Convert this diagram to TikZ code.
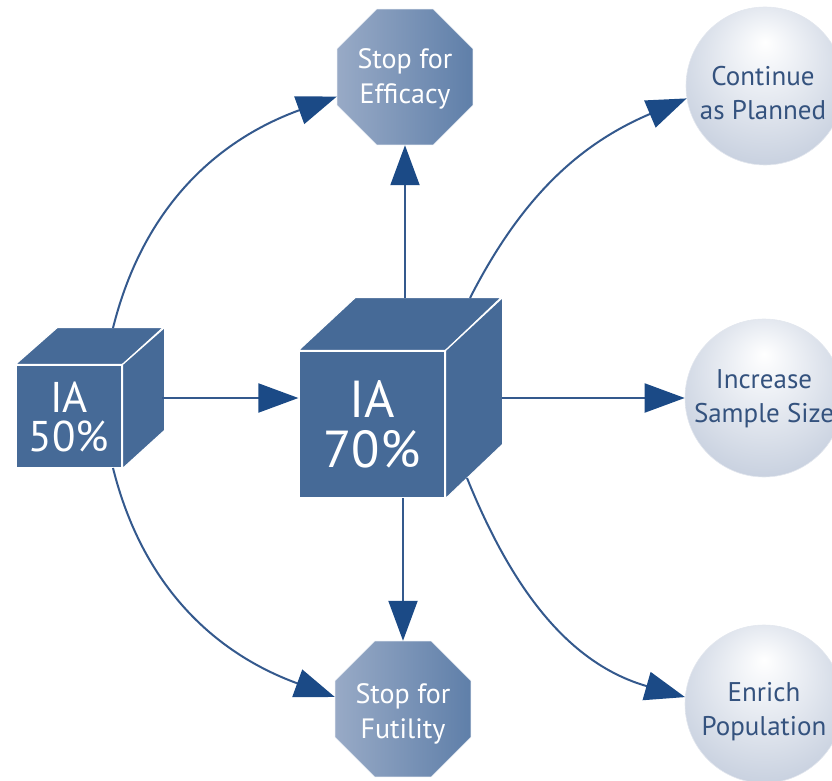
\documentclass[tikz,border=0pt]{standalone}
\usepackage{fontspec}
\setmainfont{PT Sans}
\usetikzlibrary{shapes.geometric,arrows.meta,calc}
\definecolor{cubeblue}{HTML}{466A97}
\definecolor{arrowline}{HTML}{34598D}
\definecolor{arrowtip}{HTML}{1B4A86}
\definecolor{octL}{HTML}{98AAC6}
\definecolor{octR}{HTML}{5F7FA9}
\definecolor{orbA}{HTML}{EDF0F5}
\definecolor{orbB}{HTML}{BFC9DA}
\definecolor{orbC}{HTML}{A1B0C8}
\definecolor{orbtext}{HTML}{34527E}
\pgfdeclareradialshading{orb}{\pgfpoint{0bp}{14bp}}{color(0bp)=(white); color(10bp)=(orbA); color(36bp)=(orbB); color(50bp)=(orbC)}
\begin{document}
\begin{tikzpicture}[x=1pt,y=1pt,
 cubeface/.style={rectangle, fill=cubeblue, draw=white, line width=1.2pt, text=white, align=center, inner sep=0pt},
 sideface/.style={fill=cubeblue, draw=white, line width=1.2pt, line join=round},
 octo/.style={regular polygon, regular polygon sides=8, minimum size=147pt, inner sep=0pt, left color=octL, right color=octR, draw=white!80!octR, line width=0.6pt},
 octtxt/.style={text=white, align=center, inner sep=0pt, font=\fontsize{28}{35}\selectfont},
 orbnode/.style={circle, minimum size=158pt, inner sep=0pt, shading=orb, draw=white!70!orbC, line width=0.6pt},
 orbtxt/.style={text=orbtext, align=center, inner sep=0pt, font=\fontsize{27}{34}\selectfont},
 conn/.style={draw=arrowline, line width=2pt, -{Triangle[length=40pt,width=29pt,color=arrowtip]}}
]
\useasboundingbox (0,0) rectangle (832,-781);

% outcome nodes
\node[octo] (eff) at (405,-77) {};
\node[octtxt] (effT) at ($(eff.center)+(0,-2)$) {Stop for\\Efficacy};
\node[octo] (fut) at (403,-709) {};
\node[octtxt] (futT) at ($(fut.center)+(0,-5)$) {Stop for\\Futility};
\node[orbnode] (cont) at (765,-86) {};
\node[orbtxt] (contT) at ($(cont.center)+(-2,-7)$) {Continue\\as Planned};
\node[orbnode] (inc) at (764,-398) {};
\node[orbtxt] (incT) at ($(inc.center)+(0,-1)$) {Increase\\Sample Size};
\node[orbnode] (enr) at (764,-704) {};
\node[orbtxt] (enrT) at ($(enr.center)+(0,-8)$) {Enrich\\Population};

% small cube
\node[cubeface, minimum width=106pt, minimum height=103pt, font=\fontsize{43}{39}\selectfont] (sc) at (69,-416.5) {IA\\50\%};
\draw[sideface] (sc.north west) -- ++(42,37) -- ++(106,0) -- (sc.north east) -- cycle;
\draw[sideface] (sc.north east) -- ++(42,37) -- ++(0,-103) -- (sc.south east) -- cycle;

% big cube
\node[cubeface, minimum width=146pt, minimum height=147pt, font=\fontsize{52}{50}\selectfont] (bc) at (372,-424.5) {IA\\70\%};
\draw[sideface] (bc.north west) -- ++(57,53) -- ++(146,0) -- (bc.north east) -- cycle;
\draw[sideface] (bc.north east) -- ++(57,53) -- ++(0,-147) -- (bc.south east) -- cycle;

% attachment points
\coordinate (scR) at (162,-398);
\coordinate (scT) at (113,-328);
\coordinate (scB) at (113,-468);
\coordinate (bcT) at (405,-298);
\coordinate (bcB) at (403,-498);
\coordinate (bcR) at (502,-398);
\coordinate (bcTR) at (470,-298);
\coordinate (bcBR) at (467,-478);

% connectors
\draw[conn] (scR) -- (bc.west |- scR);
\draw[conn] (bcT) -- (eff.south);
\draw[conn] (bcB) -- (fut.north);
\draw[conn] (bcR) -- (inc.west);
\draw[conn] (scT) to[out=76,in=200] (eff.196);
\draw[conn] (scB) to[out=-76,in=160] (fut.170);
\draw[conn] (bcTR) to[out=63,in=203] (cont.189);
\draw[conn] (bcBR) to[out=-68,in=164] (enr.175);
\end{tikzpicture}
\end{document}
